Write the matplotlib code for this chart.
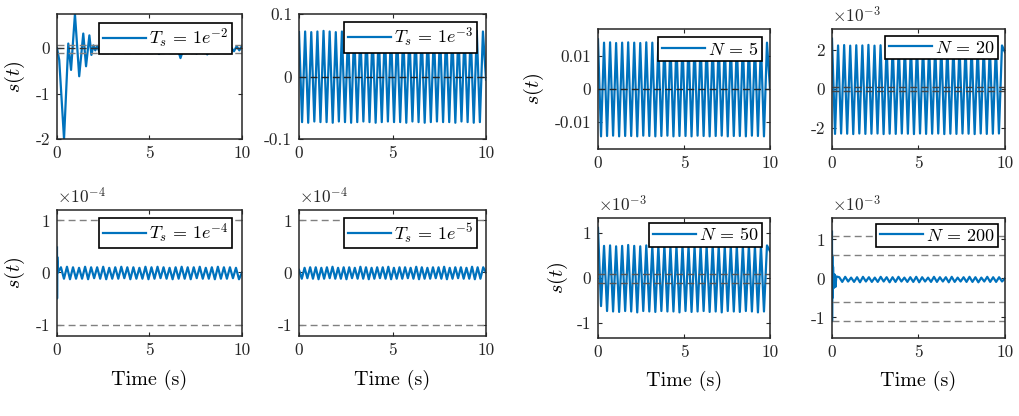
import numpy as np
import matplotlib.pyplot as plt

plt.rcParams['font.family'] = 'cmr10'
plt.rcParams['mathtext.fontset'] = 'cm'
plt.rcParams['axes.unicode_minus'] = False
plt.rcParams['axes.formatter.use_mathtext'] = True

# ---- data ----
# Ts = 1e-2 : transient then small noise
ts2_t = [0, 0.12, 0.38, 0.61, 0.76, 0.97, 1.2, 1.42, 1.57, 1.75, 1.86, 1.97,
         2.07, 2.17, 2.27, 2.37, 2.47, 2.57, 2.67]
ts2_s = [0, -0.26, -2.0, 0.1, -0.48, 0.75, -0.62, 0.32, -0.4, 0.28, -0.15, 0.06,
         -0.05, 0.05, -0.06, 0.04, -0.04, 0.03, -0.03]
ts2_tail = [0.02, -0.03, 0.03, -0.04, 0.01, -0.05, 0.02, -0.06, 0.0, -0.04, 0.01,
            -0.08, -0.02, -0.06, 0.0, -0.09, -0.03, -0.05, -0.01, -0.13, -0.02,
            -0.07, 0.01, -0.06, -0.03, -0.1, -0.02, -0.22, -0.04, -0.08, 0.0,
            -0.05, -0.02, -0.12, -0.03, -0.07, 0.01, -0.14, -0.04, -0.08, -0.01,
            -0.06, -0.02, -0.11, -0.03, -0.05, 0.01, -0.07, 0.04, -0.05, 0.05]

# Ts = 1e-3
ts3_high = [0.072, 0.071, 0.072, 0.073, 0.072, 0.071, 0.072, 0.072, 0.073, 0.071,
            0.072, 0.072, 0.071, 0.073, 0.072, 0.072, 0.071, 0.072, 0.073, 0.072,
            0.071, 0.072, 0.072, 0.073, 0.071, 0.072, 0.072, 0.071, 0.073, 0.072]
ts3_low = [-0.073, -0.074, -0.072, -0.073, -0.073, -0.074, -0.072, -0.073, -0.074, -0.073,
           -0.072, -0.073, -0.074, -0.073, -0.072, -0.073, -0.073, -0.074, -0.072, -0.073,
           -0.074, -0.073, -0.072, -0.073, -0.073, -0.074, -0.072, -0.073, -0.074, -0.073]

# Ts = 1e-4 (units 1e-4)
ts4_head_t = [0, 0.004, 0.012, 0.05]
ts4_head_s = [0.48, -0.50, 0.30, 0.0]
ts4_high = [0.10, 0.11, 0.10, 0.09, 0.11, 0.10, 0.10, 0.11, 0.09, 0.10,
            0.11, 0.10, 0.10, 0.09, 0.11, 0.10, 0.11, 0.10, 0.09, 0.10,
            0.11, 0.10, 0.10, 0.11, 0.09, 0.10, 0.11, 0.10, 0.10, 0.09]
ts4_low = [-0.12, -0.13, -0.12, -0.12, -0.13, -0.11, -0.12, -0.13, -0.12, -0.12,
           -0.11, -0.13, -0.12, -0.12, -0.13, -0.12, -0.11, -0.12, -0.13, -0.12,
           -0.12, -0.13, -0.11, -0.12, -0.12, -0.13, -0.12, -0.12, -0.11, -0.13]

# Ts = 1e-5 (units 1e-4)
ts5_high = [0.09, 0.10, 0.10, 0.09, 0.10, 0.11, 0.09, 0.10, 0.10, 0.09, 0.11,
            0.10, 0.09, 0.10, 0.10, 0.11, 0.09, 0.10, 0.10, 0.09, 0.11, 0.10,
            0.09, 0.10, 0.10, 0.11, 0.09, 0.10, 0.10, 0.09, 0.11, 0.10, 0.10]
ts5_low = [-0.12, -0.11, -0.12, -0.13, -0.12, -0.11, -0.12, -0.12, -0.13, -0.11, -0.12,
           -0.12, -0.13, -0.12, -0.11, -0.12, -0.13, -0.12, -0.12, -0.11, -0.12, -0.13,
           -0.12, -0.12, -0.11, -0.12, -0.13, -0.12, -0.11, -0.12, -0.12, -0.13, -0.12]

# N = 5 (units 1e-3)
n5_high = [13.9, 14.0, 13.8, 13.9, 14.0, 13.9, 13.8, 14.0, 13.9, 13.9, 14.0, 13.8, 13.9, 14.0,
           13.9, 13.8, 14.0, 13.9, 13.9, 14.0, 13.8, 13.9, 14.0, 13.9, 13.8, 14.0, 13.9, 13.9]
n5_low = [-14.2, -14.1, -14.0, -14.2, -14.1, -14.1, -14.2, -14.0, -14.1, -14.2, -14.1, -14.0, -14.2, -14.1,
          -14.1, -14.2, -14.0, -14.1, -14.2, -14.1, -14.0, -14.2, -14.1, -14.1, -14.2, -14.0, -14.1, -14.2]

# N = 20 (units 1e-3)
n20_high = [2.25, 2.27, 2.24, 2.26, 2.25, 2.28, 2.24, 2.26, 2.25, 2.27, 2.24, 2.26, 2.25, 2.28,
            2.25, 2.24, 2.26, 2.27, 2.25, 2.24, 2.26, 2.25, 2.28, 2.24, 2.26, 2.25, 2.27, 2.25]
n20_low = [-2.32, -2.30, -2.31, -2.33, -2.30, -2.32, -2.31, -2.30, -2.33, -2.31, -2.32, -2.30, -2.31, -2.33,
           -2.30, -2.32, -2.31, -2.30, -2.33, -2.31, -2.32, -2.30, -2.31, -2.33, -2.30, -2.32, -2.31, -2.30]

# N = 50 (units 1e-3)
n50_high = [0.72, 0.73, 0.71, 0.72, 0.74, 0.72, 0.71, 0.73, 0.72, 0.72, 0.74, 0.71, 0.72, 0.73,
            0.72, 0.71, 0.73, 0.72, 0.74, 0.72, 0.71, 0.73, 0.72, 0.72, 0.74, 0.71, 0.72, 0.73]
n50_low = [-0.62, -0.73, -0.74, -0.75, -0.73, -0.74, -0.76, -0.73, -0.74, -0.75, -0.73, -0.74, -0.74, -0.76,
           -0.73, -0.75, -0.74, -0.73, -0.75, -0.74, -0.76, -0.73, -0.74, -0.75, -0.73, -0.74, -0.76, -0.74]

# N = 200 (units 1e-3)
n200_head_t = [0, 0.005, 0.015, 0.03, 0.06, 0.1, 0.15, 0.2, 0.25]
n200_head_s = [1.2, -1.1, 0.6, -0.5, 0.3, -0.25, 0.1, -0.22, 0.05]
n200_high = [0.03, 0.04, 0.02, 0.03, 0.04, 0.03, 0.02, 0.04, 0.03, 0.03, 0.04, 0.02, 0.03, 0.04,
             0.03, 0.02, 0.04, 0.03, 0.03, 0.04, 0.02, 0.03, 0.04, 0.03, 0.02, 0.04, 0.03, 0.03]
n200_low = [-0.09, -0.08, -0.09, -0.10, -0.08, -0.09, -0.09, -0.08, -0.10, -0.09, -0.08, -0.09, -0.09, -0.10,
            -0.08, -0.09, -0.09, -0.08, -0.10, -0.09, -0.08, -0.09, -0.09, -0.10, -0.08, -0.09, -0.09, -0.08]


def zigzag(head_t, head_s, first, second, end, scale=1.0):
    # head points, then extremes alternating first/second, then end value at t=10
    vals = list(head_s)
    for a, b in zip(first, second):
        vals += [a, b]
    vals.append(end)
    n_tail = len(vals) - len(head_s) + 1
    t = list(head_t[:-1]) + list(np.linspace(head_t[-1], 10, n_tail))
    return np.array(t), np.array(vals) * scale


sig1 = (np.array(ts2_t + list(np.linspace(2.77, 10, len(ts2_tail)))), np.array(ts2_s + ts2_tail))
sig2 = zigzag([0], [0.071], ts3_low, ts3_high, -0.005)
sig5 = zigzag(ts4_head_t, ts4_head_s, ts4_high, ts4_low, 0.0, 1e-4)
sig6 = zigzag([0], [0.05], ts5_low, ts5_high, 0.0, 1e-4)
sig3 = zigzag([0], [14.9], n5_low, n5_high, 0.0, 1e-3)
sig4 = zigzag([0], [2.6], n20_low, n20_high, 1.9, 1e-3)
sig7 = zigzag([0], [1.12], n50_low, n50_high, 0.6, 1e-3)
sig8 = zigzag(n200_head_t, n200_head_s, n200_high, n200_low, 0.0, 1e-3)

W, H = 1020, 416
fig = plt.figure(figsize=(W / 100, H / 100), dpi=100)

def box(l, t, r, b):
    return [l / W, 1 - b / H, (r - l) / W, (b - t) / H]

blue = '#0072BD'
gray = '#808080'

panels = [
    dict(pos=(57, 14, 242, 139), sig=sig1, ylim=(-2.0, 0.75), yt=[-2, -1, 0], ytl=['-2', '-1', '0'],
         lab=r'$T_s\,=\,1e^{-2}$', anc=(0.946, 0.928), lines=[(0.06, gray), (-0.1, gray), (0, '#333333')],
         yl=-0.16, exp=None, xl=False),
    dict(pos=(299, 14, 486, 139), sig=sig2, ylim=(-0.1, 0.1), yt=[-0.1, 0, 0.1], ytl=['-0.1', '0', '0.1'],
         lab=r'$T_s\,=\,1e^{-3}$', anc=(0.952, 0.936), lines=[(0, '#222222')], yl=None, exp=None, xl=False),
    dict(pos=(57, 210, 242, 336), sig=sig5, ylim=(-1.22e-4, 1.2e-4), yt=[-1e-4, 0, 1e-4], ytl=['-1', '0', '1'],
         lab=r'$T_s\,=\,1e^{-4}$', anc=(0.946, 0.94), lines=[(1e-4, gray), (-1e-4, gray)],
         yl=-0.16, exp=r'$\times10^{-4}$', xl=True),
    dict(pos=(299, 210, 486, 336), sig=sig6, ylim=(-1.22e-4, 1.2e-4), yt=[-1e-4, 0, 1e-4], ytl=['-1', '0', '1'],
         lab=r'$T_s\,=\,1e^{-5}$', anc=(0.952, 0.94), lines=[(1e-4, gray), (-1e-4, gray)],
         yl=None, exp=r'$\times10^{-4}$', xl=True),
    dict(pos=(598, 29, 770, 149), sig=sig3, ylim=(-0.018, 0.018), yt=[-0.01, 0, 0.01], ytl=['-0.01', '0', '0.01'],
         lab=r'$N\,=\,5$', anc=(0.953, 0.933), lines=[(0, '#222222')], yl=-0.3, exp=None, xl=False),
    dict(pos=(832, 29, 1005, 149), sig=sig4, ylim=(-3.1e-3, 3.1e-3), yt=[-2e-3, 0, 2e-3], ytl=['-2', '0', '2'],
         lab=r'$N\,=\,20$', anc=(0.96, 0.94), lines=[(1e-4, '#444444'), (-1e-4, '#444444')],
         yl=None, exp=r'$\times10^{-3}$', xl=False),
    dict(pos=(598, 218, 770, 338), sig=sig7, ylim=(-1.33e-3, 1.34e-3), yt=[-1e-3, 0, 1e-3], ytl=['-1', '0', '1'],
         lab=r'$N\,=\,50$', anc=(0.953, 0.96), lines=[(1e-4, '#555555'), (-1e-4, '#555555')],
         yl=-0.165, exp=r'$\times10^{-3}$', xl=True),
    dict(pos=(832, 218, 1005, 338), sig=sig8, ylim=(-1.53e-3, 1.55e-3), yt=[-1e-3, 0, 1e-3], ytl=['-1', '0', '1'],
         lab=r'$N\,=\,200$', anc=(0.96, 0.95),
         lines=[(1.1e-3, gray), (0.6e-3, gray), (-0.6e-3, gray), (-1.1e-3, gray)],
         yl=None, exp=r'$\times10^{-3}$', xl=True),
]

for p in panels:
    ax = fig.add_axes(box(*p['pos']))
    t, s = p['sig']
    ax.plot(t, s, color=blue, lw=1.6, label=p['lab'])
    for lev, c in p['lines']:
        ax.axhline(lev, color=c, lw=1.0, ls=(0, (5, 3)))
    ax.set_xlim(0, 10)
    ax.set_ylim(*p['ylim'])
    ax.set_xticks([0, 5, 10])
    ax.set_xticklabels(['0', '5', '10'])
    ax.set_yticks(p['yt'])
    ax.set_yticklabels(p['ytl'])
    ax.tick_params(direction='in', top=True, right=True, length=3, width=0.8,
                   labelsize=12.5, colors='#262626', pad=5)
    for sp in ax.spines.values():
        sp.set_linewidth(1.1)
        sp.set_color('#262626')
    if p['yl'] is not None:
        ax.set_ylabel(r'$s(t)$', fontsize=14.5)
        ax.yaxis.set_label_coords(p['yl'], 0.5)
    if p['xl']:
        ax.set_xlabel('Time (s)', fontsize=14.5)
        ax.xaxis.set_label_coords(0.5, -0.27)
    if p['exp']:
        ax.text(0.0, 1.03, p['exp'], transform=ax.transAxes, ha='left', va='bottom',
                fontsize=12.5, color='#262626')
    leg = ax.legend(loc='upper right', bbox_to_anchor=p['anc'], borderaxespad=0,
                    fontsize=13, handlelength=2.4, handletextpad=0.15, borderpad=0.2,
                    fancybox=False, framealpha=1, edgecolor='black')
    leg.get_frame().set_linewidth(1.2)

fig.savefig('out.png', dpi=100)
